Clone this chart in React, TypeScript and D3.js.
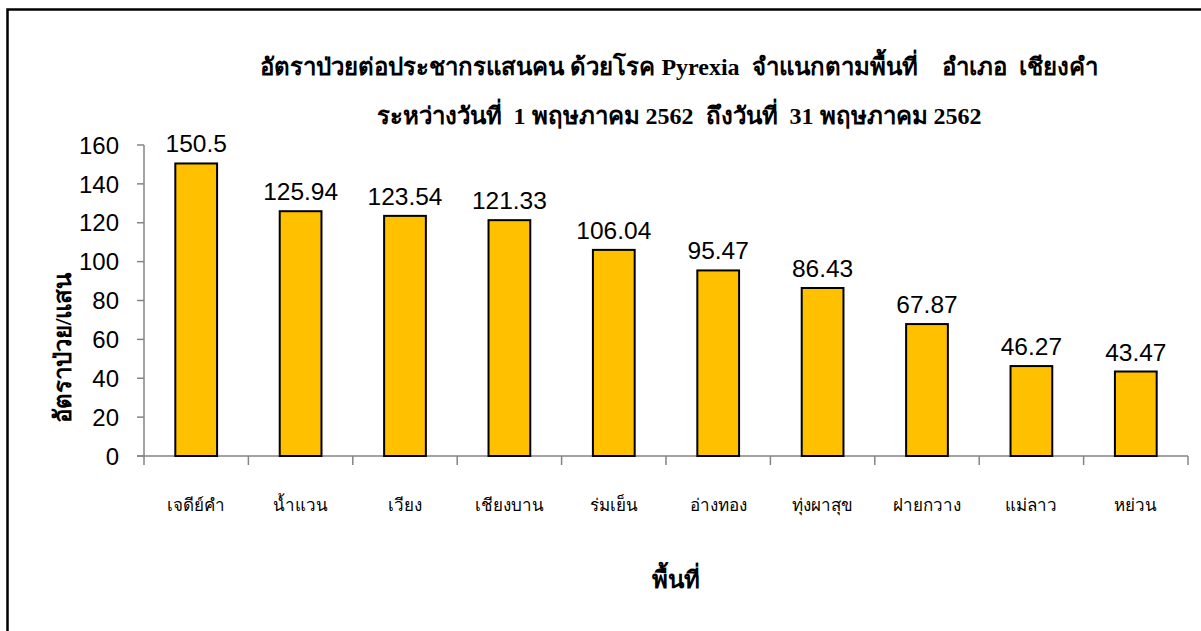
import React from "react";
import * as d3 from "d3";

const categories = ["เจดีย์คำ", "น้ำแวน", "เวียง", "เชียงบาน", "ร่มเย็น", "อ่างทอง", "ทุ่งผาสุข", "ฝายกวาง", "แม่ลาว", "หย่วน"];
const values = [150.5, 125.94, 123.54, 121.33, 106.04, 95.47, 86.43, 67.87, 46.27, 43.47];
const valueLabels = ["150.5", "125.94", "123.54", "121.33", "106.04", "95.47", "86.43", "67.87", "46.27", "43.47"];
const yTicks = [0, 20, 40, 60, 80, 100, 120, 140, 160];
const titleLines = [
  "อัตราป่วยต่อประชากรแสนคน ด้วยโรค Pyrexia  จำแนกตามพื้นที่    อำเภอ  เชียงคำ",
  "ระหว่างวันที่  1 พฤษภาคม 2562  ถึงวันที่  31 พฤษภาคม 2562",
];
const yTitle = "อัตราป่วย/แสน";
const xTitle = "พื้นที่";

const W = 1201;
const H = 631;
const left = 144;
const right = 1188;
const top = 145;
const bottom = 456;

const serif = "'Times New Roman', 'Liberation Serif', 'DejaVu Serif', serif";
const sans = "Arial, 'Liberation Sans', Helvetica, sans-serif";

export default function App() {
  const x = d3.scaleBand<string>().domain(categories).range([left, right]).paddingInner(0).paddingOuter(0);
  const y = d3.scaleLinear().domain([0, 160]).range([bottom, top]);
  const bw = x.bandwidth();
  const barW = bw * 0.4;
  const axisColor = "#858585";

  return (
    <svg width={W} height={H} style={{ position: "absolute", left: 0, top: 0, background: "#fff" }}>
      <rect x={0} y={0} width={W} height={H} fill="#fff" />
      <rect x={7.5} y={9.5} width={W + 20} height={H + 20} fill="none" stroke="#000" strokeWidth={2.5} />
      {titleLines.map((t, i) => (
        <text key={i} x={679} y={75 + i * 49} textAnchor="middle" fontFamily={serif} fontWeight="bold" fontSize={24} fill="#000" style={{ whiteSpace: "pre" }}>
          {t}
        </text>
      ))}
      {/* y axis */}
      <line x1={left} x2={left} y1={top} y2={bottom + 9} stroke={axisColor} strokeWidth={1.5} />
      {yTicks.map((t) => (
        <g key={t}>
          <line x1={left - 7} x2={left} y1={y(t)} y2={y(t)} stroke={axisColor} strokeWidth={1.5} />
          <text x={119} y={y(t)} dy="0.36em" textAnchor="end" fontFamily={sans} fontSize={24} fill="#000">
            {t}
          </text>
        </g>
      ))}
      {/* x axis */}
      <line x1={left - 7} x2={right} y1={bottom} y2={bottom} stroke={axisColor} strokeWidth={1.5} />
      {categories.map((c, i) => (
        <line key={"t" + i} x1={x(c)! + bw} x2={x(c)! + bw} y1={bottom} y2={bottom + 9} stroke={axisColor} strokeWidth={1.5} />
      ))}
      {/* bars */}
      {categories.map((c, i) => (
        <rect key={"b" + i} x={x(c)! + (bw - barW) / 2} y={y(values[i])} width={barW} height={bottom - y(values[i])} fill="#FFC000" stroke="#000" strokeWidth={2} />
      ))}
      {categories.map((c, i) => (
        <text key={"v" + i} x={x(c)! + bw / 2} y={y(values[i]) - 11} textAnchor="middle" fontFamily={sans} fontSize={24.5} fill="#000">
          {valueLabels[i]}
        </text>
      ))}
      {categories.map((c, i) => (
        <text key={"c" + i} x={x(c)! + bw / 2} y={511} textAnchor="middle" fontFamily={serif} fontSize={17} fill="#000">
          {c}
        </text>
      ))}
      <text transform={`translate(71, 348) rotate(-90)`} textAnchor="middle" fontFamily={serif} fontWeight="bold" fontSize={24} fill="#000">
        {yTitle}
      </text>
      <text x={676} y={588} textAnchor="middle" fontFamily={serif} fontWeight="bold" fontSize={24} fill="#000">
        {xTitle}
      </text>
    </svg>
  );
}
